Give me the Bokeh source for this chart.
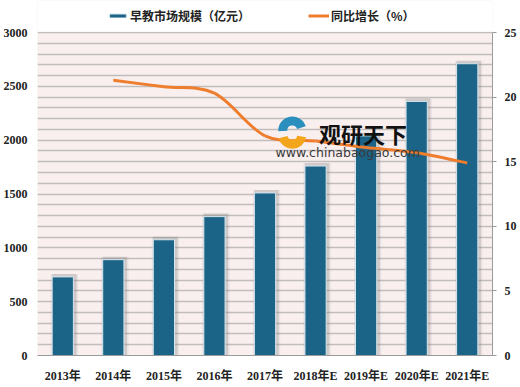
from bokeh.plotting import figure
from bokeh.models import (Range1d, LinearAxis, FixedTicker, Legend, LegendItem,
                          ColumnDataSource, Label, BoxAnnotation)
from bokeh.embed import file_html
from bokeh.resources import INLINE

categories = ["2013年", "2014年", "2015年", "2016年", "2017年",
              "2018年E", "2019年E", "2020年E", "2021年E"]
market_size = [730, 890, 1075, 1290, 1510, 1760, 2040, 2360, 2710]
growth_years = [1, 2, 3, 4, 5, 6, 7, 8]
growth_pct = [21.3, 20.8, 20.3, 17.0, 16.6, 16.1, 15.7, 14.9]
left_ticks = [0, 500, 1000, 1500, 2000, 2500, 3000]
right_ticks = [0, 5, 10, 15, 20, 25]

BAR = "#1b6488"
ORANGE = "#ee7d2e"
LABEL_FONT = "Liberation Serif, Noto Sans CJK SC"

# frame spans the whole height down to the axis; area above the value axis top
# hosts the legend (plot area: 323 px for the value span, 32 px headroom)
LMAX, RMAX = 3000, 25
HEAD = 355 / 323

xs = list(range(len(categories)))

p = figure(width=520, height=387, output_backend="svg", toolbar_location=None,
           x_range=Range1d(-0.5, len(categories) - 0.5),
           y_range=Range1d(0, LMAX * HEAD),
           min_border_left=31, min_border_right=28, min_border_top=0,
           min_border_bottom=32)
p.extra_y_ranges = {"pct": Range1d(0, RMAX * HEAD)}
p.background_fill_color = "#f9efef"
p.border_fill_color = "white"
p.outline_line_color = None

# grid every 100
p.xgrid.visible = False
p.ygrid.ticker = FixedTicker(ticks=list(range(0, LMAX + 1, 100)))
p.ygrid.grid_line_color = "#c2bdbd"
p.ygrid.grid_line_width = 1.3

# white headroom above the plot area
p.add_layout(BoxAnnotation(bottom=LMAX + 8, fill_color="white", fill_alpha=1,
                           line_color=None, level="underlay"))

# left axis
ya = p.yaxis[0]
ya.ticker = FixedTicker(ticks=left_ticks)
ya.axis_line_color = None
ya.major_tick_line_color = None
ya.minor_tick_line_color = None
ya.major_label_standoff = 4
ya.major_label_text_font = LABEL_FONT
ya.major_label_text_font_style = "bold"
ya.major_label_text_font_size = "12px"
ya.major_label_text_color = "#222222"

# bottom axis
xa = p.xaxis[0]
xa.ticker = FixedTicker(ticks=xs)
xa.major_label_overrides = {i: c for i, c in enumerate(categories)}
xa.axis_line_color = "#9a9a9a"
xa.major_tick_line_color = None
xa.minor_tick_line_color = None
xa.major_label_standoff = 7
xa.major_label_text_font = LABEL_FONT
xa.major_label_text_font_style = "bold"
xa.major_label_text_font_size = "12px"
xa.major_label_text_color = "#222222"

# right axis
ra = LinearAxis(y_range_name="pct", ticker=FixedTicker(ticks=right_ticks),
                bounds=(0, RMAX))
ra.axis_line_color = "#9a9a9a"
ra.major_tick_line_color = "#9a9a9a"
ra.major_tick_in = 0
ra.major_tick_out = 4
ra.minor_tick_line_color = None
ra.major_label_standoff = 8
ra.major_label_text_font = LABEL_FONT
ra.major_label_text_font_style = "bold"
ra.major_label_text_font_size = "12px"
ra.major_label_text_color = "#222222"
p.add_layout(ra, "right")

# bar shadows (soft)
src = ColumnDataSource(dict(x=xs, top=market_size,
                            sx=[x + 0.03 for x in xs],
                            stop=[v + 28 for v in market_size]))
p.vbar(x="sx", top="stop", width=0.54, source=src, fill_color="#808080",
       fill_alpha=0.12, line_color=None)
p.vbar(x="sx", top="stop", width=0.48, source=src, fill_color="#707070",
       fill_alpha=0.22, line_color=None)
bars = p.vbar(x="x", top="top", width=0.42, source=src, fill_color=BAR,
              line_color="#d5e6ee", line_width=1)

# smoothed growth line (Catmull-Rom -> cubic Bezier, tension 1/6)
n = len(growth_years)
px, py = growth_years, growth_pct
x0, y0, x1, y1, cx0, cy0, cx1, cy1 = [], [], [], [], [], [], [], []
for i in range(n - 1):
    a = max(i - 1, 0)
    d = min(i + 2, n - 1)
    x0.append(px[i]); y0.append(py[i])
    x1.append(px[i + 1]); y1.append(py[i + 1])
    cx0.append(px[i] + (px[i + 1] - px[a]) / 6)
    cy0.append(py[i] + (py[i + 1] - py[a]) / 6)
    cx1.append(px[i + 1] - (px[d] - px[i]) / 6)
    cy1.append(py[i + 1] - (py[d] - py[i]) / 6)
bsrc = ColumnDataSource(dict(x0=x0, y0=y0, x1=x1, y1=y1,
                             cx0=cx0, cy0=cy0, cx1=cx1, cy1=cy1))
curve = p.bezier(x0="x0", y0="y0", x1="x1", y1="y1", cx0="cx0", cy0="cy0",
                 cx1="cx1", cy1="cy1", source=bsrc, line_color=ORANGE,
                 line_width=3, y_range_name="pct")

# watermark
p.annular_wedge(x=[4.54, 4.54], y=[2090, 2050], inner_radius=5, outer_radius=14,
                inner_radius_units="screen", outer_radius_units="screen",
                start_angle=[0.3, 3.4], end_angle=[3.2, 6.1],
                fill_color=["#2a8fbd", "#f3a51c"], line_color=None)
p.add_layout(Label(x=5.07, y=2070, text="观研天下", text_font="Noto Sans CJK SC",
                   text_font_style="bold", text_font_size="22px",
                   text_baseline="middle", text_color="#111111"))
p.add_layout(Label(x=4.21, y=1885, text="www.chinabaogao.com", text_font="DejaVu Sans",
                   text_font_size="12.5px", text_baseline="middle",
                   text_color="#3a3a3a"))

legend = Legend(items=[LegendItem(label="早教市场规模（亿元）", renderers=[bars]),
                       LegendItem(label="同比增长（%）", renderers=[curve])],
                orientation="horizontal", location="top_left",
                label_text_font="Noto Sans CJK SC", label_text_font_style="bold",
                label_text_font_size="12px", label_text_color="#222222",
                glyph_width=21, glyph_height=5, label_height=14, label_standoff=2,
                spacing=58, padding=2, margin=0,
                border_line_color=None, background_fill_alpha=0)
legend.location = (70, 331)
p.add_layout(legend, "center")

open("out.html", "w").write(file_html(p, INLINE))
